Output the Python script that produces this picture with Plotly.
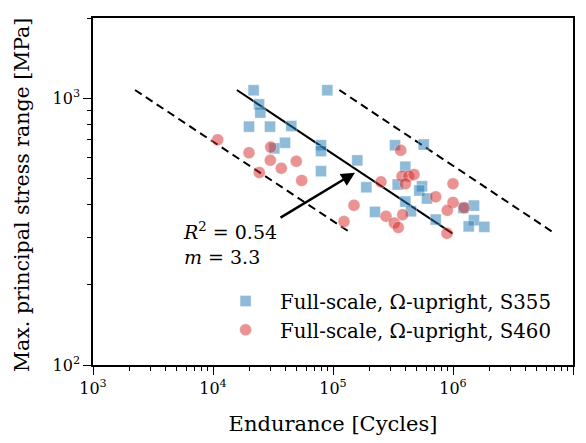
import numpy as np
import plotly.graph_objects as go

# ---- data ----
s355_N = [21800, 24200, 24800, 19950, 29850, 44930, 39800, 32430, 79430, 79430,
          79430, 89660, 159400, 189500, 223900, 328700, 570200, 400500, 346000, 551600,
          523600, 606900, 400500, 446700, 717800, 1219000, 1496000, 1496000, 1352000, 1823000]
s355_S = [1072, 949, 884, 783, 783, 787, 681, 649, 667, 634,
          533, 1072, 585, 464, 375, 667, 671, 554, 475, 468,
          451, 421, 410, 377, 351, 388, 396, 349, 331, 329.5]

s460_N = [10940, 19950, 30260, 30050, 37080, 49430, 24320, 54840, 123500, 149600,
          251200, 276500, 324300, 349900, 366600, 375800, 427600, 473200, 400500, 381000,
          717800, 1000000, 1000000, 896600, 1235000, 891300]
s460_S = [699, 625, 656, 586, 547, 581, 527, 492, 345, 397,
          486, 361, 341, 328, 638, 510, 510, 518, 478, 366,
          427, 478, 407, 380, 389, 311.6]

fit_N = [15800, 994000]
fit_S = [1074, 311]
lower_N = [2239, 138600]
lower_S = [1074, 314.5]
upper_N = [112900, 6950000]
upper_S = [1074, 312.6]

arrow_tail = (35500, 354)
arrow_head = (152500, 526)
label_pos = (5400, 285)

x_major = [1e3, 1e4, 1e5, 1e6, 1e7]
x_labels = ["10<sup>3</sup>", "10<sup>4</sup>", "10<sup>5</sup>", "10<sup>6</sup>", "10<sup>7</sup>"]
y_major = [1e2, 1e3]
y_labels = ["10<sup>2</sup>", "10<sup>3</sup>"]
x_minor = [m * 10 ** e for e in range(3, 7) for m in range(2, 10)]
y_minor = [m * 10 ** e for e in range(2, 3) for m in range(2, 10)] + [2000]

FONT = "DejaVu Serif"
BLUE = "rgba(31,119,180,0.5)"
RED = "rgba(214,39,40,0.5)"

fig = go.Figure()

fig.add_trace(go.Scatter(x=lower_N, y=lower_S, mode="lines", showlegend=False,
                         line=dict(color="black", width=2, dash="8px,5px")))
fig.add_trace(go.Scatter(x=upper_N, y=upper_S, mode="lines", showlegend=False,
                         line=dict(color="black", width=2, dash="8px,5px")))
fig.add_trace(go.Scatter(x=fit_N, y=fit_S, mode="lines", showlegend=False,
                         line=dict(color="black", width=2)))

fig.add_trace(go.Scatter(x=s355_N, y=s355_S, mode="markers",
                         name="Full-scale, Ω-upright, S355",
                         marker=dict(symbol="square", size=11, color=BLUE,
                                     line=dict(color="rgba(255,255,255,0.35)", width=1))))
fig.add_trace(go.Scatter(x=s460_N, y=s460_S, mode="markers",
                         name="Full-scale, Ω-upright, S460",
                         marker=dict(symbol="circle", size=12, color=RED,
                                     line=dict(color="rgba(255,255,255,0.35)", width=1))))

fig.add_annotation(x=np.log10(arrow_head[0]), y=np.log10(arrow_head[1]),
                   ax=np.log10(arrow_tail[0]), ay=np.log10(arrow_tail[1]),
                   xref="x", yref="y", axref="x", ayref="y",
                   showarrow=True, arrowhead=2, arrowsize=1.1, arrowwidth=2.5,
                   arrowcolor="black", text="")

fig.add_annotation(x=np.log10(label_pos[0]), y=np.log10(label_pos[1]), xref="x", yref="y",
                   xanchor="left", yanchor="middle", showarrow=False, align="left",
                   text="<i>R</i><sup>2</sup> = 0.54<br><i>m</i> = 3.3",
                   font=dict(family=FONT, size=19, color="black"))

# y-axis title as a rotated annotation
fig.add_annotation(x=-0.148, y=0.49, xref="paper", yref="paper",
                   xanchor="center", yanchor="middle", showarrow=False, textangle=-90,
                   text="Max. principal stress range [MPa]",
                   font=dict(family=FONT, size=20.5, color="black"))

axis_common = dict(type="log", showgrid=False, zeroline=False,
                   showline=True, linecolor="black", linewidth=1.5, mirror=True,
                   ticks="outside", ticklen=8, tickwidth=1.3, tickcolor="black",
                   tickfont=dict(family=FONT, size=16, color="black"))

fig.update_xaxes(**axis_common, range=[3, 7], tickvals=x_major, ticktext=x_labels,
                 minor=dict(tickvals=x_minor, ticks="outside", ticklen=4,
                            tickwidth=1.1, tickcolor="black"),
                 title=dict(text="Endurance [Cycles]", standoff=19,
                            font=dict(family=FONT, size=21, color="black")))
fig.update_yaxes(**axis_common, range=[2, np.log10(2000)], tickvals=y_major, ticktext=y_labels,
                 minor=dict(tickvals=y_minor, ticks="outside", ticklen=4,
                            tickwidth=1.1, tickcolor="black"))

fig.update_layout(width=586, height=443,
                  margin=dict(l=93, r=13, t=18, b=78),
                  plot_bgcolor="white", paper_bgcolor="white",
                  legend=dict(x=0.246, y=0.24, xanchor="left", yanchor="top",
                              bgcolor="rgba(0,0,0,0)", itemwidth=59,
                              font=dict(family=FONT, size=19.8, color="black"),
                              tracegroupgap=0))

fig.write_html("out.html")
